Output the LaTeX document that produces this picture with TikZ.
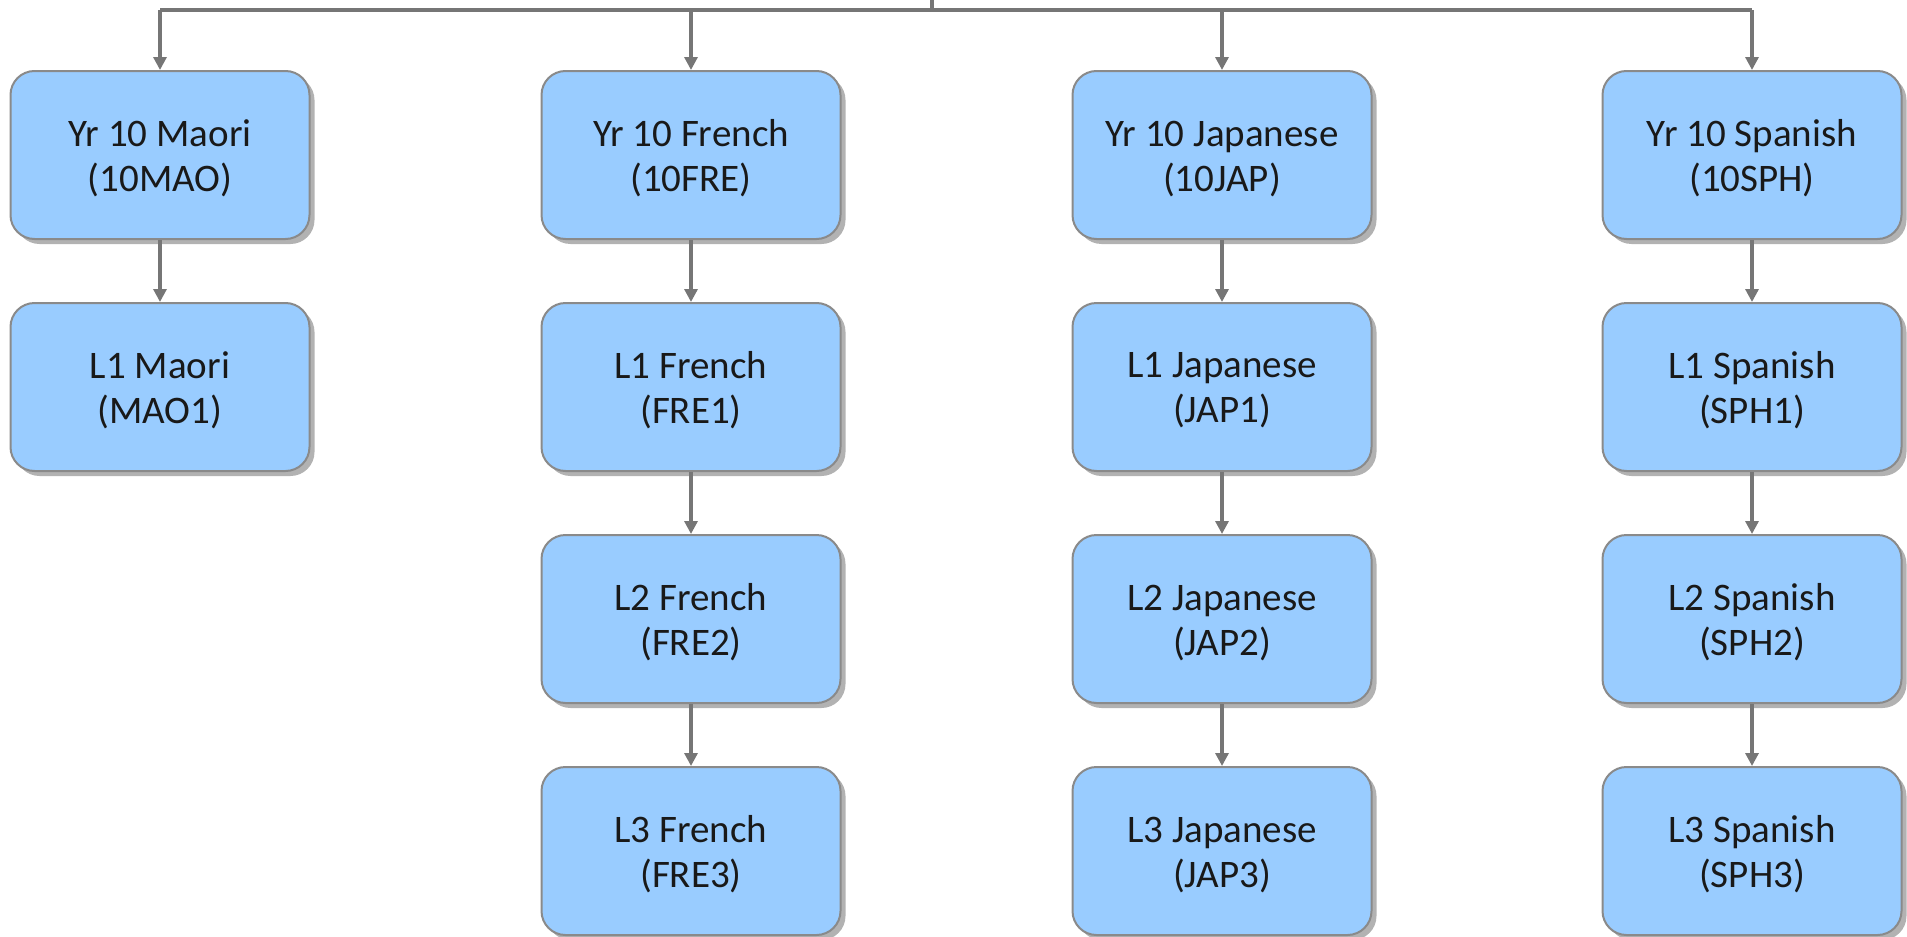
\documentclass[tikz,border=0pt]{standalone}
\usepackage{fontspec}
\setmainfont{Carlito}
\usetikzlibrary{shadows,arrows.meta}
\definecolor{boxfill}{HTML}{99CCFF}
\definecolor{boxline}{HTML}{8A8A8A}
\definecolor{conn}{HTML}{767676}
\tikzset{
  course/.style={draw=boxline, line width=1pt, fill=boxfill, rounded corners=12pt,
    minimum width=149.5pt, minimum height=84pt,
    drop shadow={shadow xshift=2.5pt, shadow yshift=-2.5pt, fill=black!30, opacity=1}},
  lab/.style={align=center, inner sep=0pt, text=black!90,
    font=\fontsize{19.5}{22.5}\selectfont},
  link/.style={draw=conn, line width=1.6pt, -{Triangle[length=6.5pt,width=6.5pt]}},
  busline/.style={draw=conn, line width=1.6pt}
}
\newcommand{\coursebox}[3]{%
  \node[course] (#1) at (#2) {};
  \node[lab] (#1-t) at ([yshift=-1.8pt]#1.center) {#3};}
\begin{document}
\begin{tikzpicture}[x=0.5pt,y=-0.5pt]
\useasboundingbox (0,0) rectangle (1907,937);
% row centers: 155, 387, 619, 851 ; columns: 160, 691, 1222, 1752
\coursebox{m0}{160,155}{Yr 10 Maori\\(10MAO)}
\coursebox{m1}{160,387}{L1 Maori\\(MAO1)}
\coursebox{f0}{691,155}{Yr 10 French\\(10FRE)}
\coursebox{f1}{691,387}{L1 French\\(FRE1)}
\coursebox{f2}{691,619}{L2 French\\(FRE2)}
\coursebox{f3}{691,851}{L3 French\\(FRE3)}
\coursebox{j0}{1222,155}{Yr 10 Japanese\\(10JAP)}
\coursebox{j1}{1222,387}{L1 Japanese\\(JAP1)}
\coursebox{j2}{1222,619}{L2 Japanese\\(JAP2)}
\coursebox{j3}{1222,851}{L3 Japanese\\(JAP3)}
\coursebox{s0}{1752,155}{Yr 10 Spanish\\(10SPH)}
\coursebox{s1}{1752,387}{L1 Spanish\\(SPH1)}
\coursebox{s2}{1752,619}{L2 Spanish\\(SPH2)}
\coursebox{s3}{1752,851}{L3 Spanish\\(SPH3)}
\coordinate (top) at (932,0);
\coordinate (bus) at (932,10);
\coordinate (busL) at (160,10);
\coordinate (busR) at (1752,10);
\draw[busline] (top) -- (bus);
\draw[busline] (busL) -- (busR);
\draw[link] (busL) -- (m0.north);
\draw[link] (bus -| f0) -- (f0.north);
\draw[link] (bus -| j0) -- (j0.north);
\draw[link] (busR) -- (s0.north);
\draw[link] (m0) -- (m1);
\draw[link] (f0) -- (f1);
\draw[link] (f1) -- (f2);
\draw[link] (f2) -- (f3);
\draw[link] (j0) -- (j1);
\draw[link] (j1) -- (j2);
\draw[link] (j2) -- (j3);
\draw[link] (s0) -- (s1);
\draw[link] (s1) -- (s2);
\draw[link] (s2) -- (s3);
\end{tikzpicture}
\end{document}
